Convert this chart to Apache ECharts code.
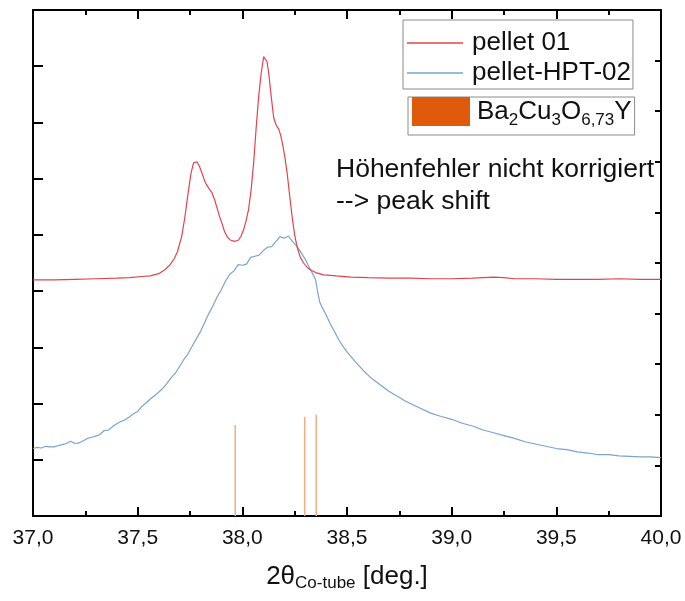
<!DOCTYPE html>
<html>
<head>
<meta charset="utf-8">
<script src="https://cdn.jsdelivr.net/npm/echarts@6/dist/echarts.min.js"></script>
<style>
  html, body { margin: 0; padding: 0; background: #fff; }
  #chart { width: 685px; height: 601px; }
</style>
</head>
<body>
<div id="chart"></div>
<script>
// 2-theta positions (deg) and intensities (arb. units, offset) of the two scans
const pelletX = [37.00, 37.10, 37.20, 37.30, 37.40, 37.46, 37.52, 37.56, 37.60, 37.63, 37.655, 37.675, 37.69, 37.71, 37.725,
  37.743, 37.755, 37.767, 37.783, 37.795, 37.807, 37.82, 37.831, 37.845, 37.855, 37.868, 37.879, 37.891, 37.903, 37.915,
  37.927, 37.942, 37.958, 37.97, 37.982, 37.994, 38.006, 38.018, 38.03, 38.042, 38.054, 38.066, 38.078, 38.09, 38.102,
  38.11, 38.118, 38.126, 38.138, 38.15, 38.162, 38.174, 38.184, 38.194, 38.204, 38.214, 38.226, 38.238, 38.25, 38.262,
  38.277, 38.293, 38.31, 38.325, 38.35, 38.389, 38.45, 38.52, 38.6, 38.7, 38.8, 38.9, 39.0, 39.1, 39.15, 39.2, 39.25,
  39.3, 39.4, 39.5, 39.6, 39.7, 39.8, 39.9, 40.0];
const pelletY = [4.20, 4.20, 4.21, 4.22, 4.23, 4.24, 4.26, 4.27, 4.31, 4.38, 4.47, 4.58, 4.70, 4.97, 5.30,
  5.80, 6.10, 6.28, 6.30, 6.22, 6.10, 5.96, 5.88, 5.80, 5.75, 5.62, 5.48, 5.33, 5.20, 5.06,
  4.97, 4.91, 4.89, 4.89, 4.91, 4.98, 5.09, 5.25, 5.46, 5.80, 6.28, 6.90, 7.46, 7.88, 8.17,
  8.19, 8.08, 7.88, 7.46, 7.08, 6.95, 6.88, 6.76, 6.58, 6.36, 6.10, 5.70, 5.32, 5.00, 4.78,
  4.60, 4.50, 4.42, 4.38, 4.33, 4.29, 4.27, 4.25, 4.24, 4.23, 4.23, 4.22, 4.22, 4.23, 4.24, 4.25, 4.24,
  4.22, 4.22, 4.21, 4.21, 4.21, 4.22, 4.21, 4.21];

const hptX = [37.00, 37.02, 37.04, 37.06, 37.08, 37.10, 37.12, 37.14, 37.16, 37.18, 37.20, 37.22, 37.24, 37.26, 37.28,
  37.30, 37.32, 37.34, 37.36, 37.38, 37.40, 37.42, 37.44, 37.46, 37.48, 37.50, 37.52, 37.54, 37.56, 37.58,
  37.60, 37.62, 37.64, 37.66, 37.68, 37.70, 37.72, 37.74, 37.76, 37.78, 37.80, 37.82, 37.84, 37.86, 37.88,
  37.90, 37.92, 37.94, 37.96, 37.98, 38.00, 38.02, 38.04, 38.06, 38.08, 38.10, 38.12, 38.14, 38.16, 38.18,
  38.20, 38.22, 38.24, 38.26, 38.28, 38.30, 38.32, 38.34, 38.35, 38.36, 38.37, 38.38, 38.40, 38.42, 38.44,
  38.46, 38.48, 38.50, 38.54, 38.58, 38.62, 38.66, 38.70, 38.74, 38.78, 38.82, 38.86, 38.90, 38.95, 39.00,
  39.05, 39.10, 39.15, 39.20, 39.25, 39.30, 39.35, 39.40, 39.45, 39.50, 39.55, 39.60, 39.65, 39.70, 39.75,
  39.80, 39.85, 39.90, 39.95, 40.00];
const hptY = [1.20, 1.22, 1.21, 1.24, 1.23, 1.23, 1.25, 1.27, 1.29, 1.33, 1.29, 1.30, 1.34, 1.38, 1.40,
  1.42, 1.45, 1.52, 1.53, 1.59, 1.64, 1.68, 1.71, 1.76, 1.82, 1.86, 1.95, 2.01, 2.08, 2.14,
  2.20, 2.27, 2.36, 2.46, 2.54, 2.66, 2.78, 2.88, 3.02, 3.15, 3.28, 3.44, 3.60, 3.74, 3.90,
  4.03, 4.18, 4.30, 4.36, 4.47, 4.46, 4.48, 4.60, 4.62, 4.64, 4.72, 4.78, 4.79, 4.88, 4.97,
  4.94, 4.98, 4.88, 4.80, 4.69, 4.57, 4.42, 4.28, 4.20, 3.98, 3.80, 3.72, 3.58, 3.42, 3.28,
  3.14, 3.02, 2.92, 2.74, 2.58, 2.44, 2.33, 2.22, 2.13, 2.04, 1.97, 1.90, 1.83, 1.77, 1.72,
  1.65, 1.60, 1.53, 1.48, 1.43, 1.38, 1.32, 1.28, 1.24, 1.20, 1.18, 1.14, 1.12, 1.09, 1.09,
  1.07, 1.06, 1.05, 1.05, 1.04];

// Reference reflections of Ba2Cu3O6,73Y (relative intensity)
const refX = [37.966, 38.298, 38.353];
const refI = [90, 98, 100];

const xTicks = { min: 37, max: 40, step: 0.5 };

const FONT = 'Liberation Sans, Arial, sans-serif';
const zip = (xs, ys) => xs.map((x, i) => [x, ys[i]]);

const chart = echarts.init(document.getElementById('chart'), null, { renderer: 'canvas' });

const tickAxisX = (pos, showLabel) => ({
  type: 'value', position: pos,
  min: xTicks.min, max: xTicks.max, interval: xTicks.step,
  axisLine: { show: true, onZero: false, lineStyle: { color: '#000', width: 2 } },
  axisTick: { show: true, inside: true, length: 9, lineStyle: { color: '#000', width: 2 } },
  minorTick: { show: true, splitNumber: 2, length: 5, lineStyle: { color: '#000', width: 2 } },
  splitLine: { show: false }, minorSplitLine: { show: false },
  axisLabel: {
    show: showLabel, margin: 12, fontSize: 21, color: '#111', fontFamily: FONT,
    formatter: v => v.toFixed(1).replace('.', ',')
  }
});

const bottomAxis = tickAxisX('bottom', true);
bottomAxis.name = '{m|2θ}{s|Co-tube}{m| [deg.]}';
bottomAxis.nameLocation = 'middle';
bottomAxis.nameGap = 46;
bottomAxis.nameTextStyle = {
  rich: {
    m: { fontSize: 26, color: '#111', fontFamily: FONT, lineHeight: 30 },
    s: { fontSize: 17, color: '#111', fontFamily: FONT, padding: [12, 0, 0, 0] }
  }
};

const option = {
  backgroundColor: '#fff',
  animation: false,
  grid: { left: 33, right: 24, top: 10, bottom: 85, containLabel: false },
  xAxis: [bottomAxis, tickAxisX('top', false)],
  yAxis: [
    {
      type: 'value', position: 'left', min: 0, max: 9, interval: 1,
      axisLine: { show: true, onZero: false, lineStyle: { color: '#000', width: 2 } },
      axisTick: { show: true, inside: true, length: 10, lineStyle: { color: '#000', width: 2 } },
      axisLabel: { show: false }, splitLine: { show: false }
    },
    {
      type: 'value', position: 'right', min: 0, max: 500, interval: 50,
      axisLine: { show: true, onZero: false, lineStyle: { color: '#000', width: 2 } },
      axisTick: { show: true, inside: true, length: 6, lineStyle: { color: '#000', width: 2 } },
      axisLabel: { show: false }, splitLine: { show: false }
    }
  ],
  legend: [
    {
      data: ['pellet 01', 'pellet-HPT-02'],
      orient: 'vertical', left: 403, top: 20,
      icon: 'rect', itemWidth: 56, itemHeight: 1.5, itemGap: 2,
      padding: [9, 2, 2, 4],
      borderColor: '#8a8a8a', borderWidth: 1,
      textStyle: { fontSize: 26, color: '#111', fontFamily: FONT, lineHeight: 28, padding: [0, 0, 0, 4] }
    },
    {
      data: [{ name: 'Ba2Cu3O6,73Y', itemStyle: { color: '#e05a0b' } }],
      orient: 'vertical', left: 408, top: 97,
      icon: 'rect', itemWidth: 58, itemHeight: 29,
      padding: [0, 3, 6, 4],
      borderColor: '#8a8a8a', borderWidth: 1,
      formatter: () => '{n|Ba}{s|2}{n|Cu}{s|3}{n|O}{s|6,73}{n|Y}',
      textStyle: {
        fontSize: 26, color: '#111', fontFamily: FONT, padding: [0, 0, 0, 2],
        rich: {
          n: { fontSize: 26, color: '#111', fontFamily: FONT, lineHeight: 29 },
          s: { fontSize: 17, color: '#111', fontFamily: FONT, padding: [18, 0, 0, 0] }
        }
      }
    }
  ],
  graphic: [
    {
      type: 'text', left: 336, top: 156,
      style: { text: 'Höhenfehler nicht korrigiert', fontSize: 26.5, fill: '#111', fontFamily: FONT }
    },
    {
      type: 'text', left: 336, top: 188,
      style: { text: '--> peak shift', fontSize: 26.5, fill: '#111', fontFamily: FONT }
    }
  ],
  series: [
    {
      name: 'pellet 01', type: 'line', xAxisIndex: 0, yAxisIndex: 0,
      data: zip(pelletX, pelletY), showSymbol: false, symbol: 'none',
      lineStyle: { color: '#e4434d', width: 1.2 }, itemStyle: { color: '#e4434d' }, z: 3
    },
    {
      name: 'pellet-HPT-02', type: 'line', xAxisIndex: 0, yAxisIndex: 0,
      data: zip(hptX, hptY), showSymbol: false, symbol: 'none',
      lineStyle: { color: '#7aa3cf', width: 1.2 }, itemStyle: { color: '#7aa3cf' }, z: 2
    },
    {
      name: 'Ba2Cu3O6,73Y', type: 'bar', xAxisIndex: 0, yAxisIndex: 1,
      data: zip(refX, refI), barWidth: 1.5,
      itemStyle: { color: '#f0ae82' }, z: 1
    }
  ]
};

chart.setOption(option);
</script>
</body>
</html>
